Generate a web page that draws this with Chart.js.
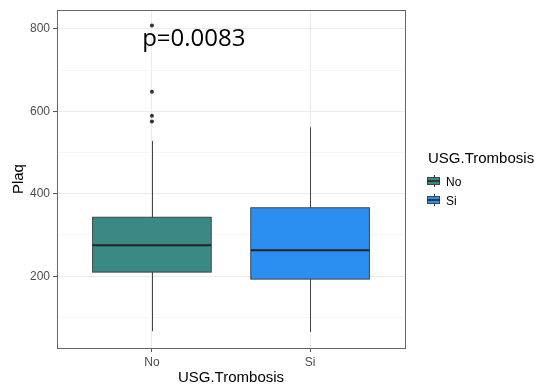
<!DOCTYPE html>
<html>
<head>
<meta charset="utf-8">
<script src="https://cdn.jsdelivr.net/npm/chart.js@4.4.1/dist/chart.umd.min.js"></script>
<style>
  html, body { margin: 0; padding: 0; background: #fff; }
  #wrap { width: 535px; height: 388px; position: relative; }
</style>
</head>
<body>
<div id="wrap"><canvas id="myChart" width="535" height="388"></canvas></div>
<script>
// boxplot summary per group
var groups = ['No', 'Si'];
var boxColors = ['#3a8985', '#2b8ff2'];
var lowerWhisker = [67, 65];
var q1 = [210, 193];
var median = [275, 263];
var q3 = [343, 366];
var upperWhisker = [528, 561];

// outliers (group index, value)
var outlierGroup = [0, 0, 0, 0];
var outlierValue = [808, 647, 589, 575];

var yTicks = [200, 400, 600, 800];
var yMinorTicks = [100, 300, 500, 700];
var pLabel = 'p=0.0083';

var tickFont = { family: 'Liberation Sans', size: 12 };
var titleFont = { family: 'Liberation Sans', size: 15 };

var outlierData = [];
outlierValue.forEach(function (v, i) {
    outlierData.push({ x: outlierGroup[i] + 1, y: v });
});

var boxPlugin = {
    id: 'boxes',
    beforeDatasetsDraw: function (chart) {
        var ctx = chart.ctx, xs = chart.scales.x, ys = chart.scales.y;
        ctx.save();
        groups.forEach(function (g, i) {
            var cx = xs.getPixelForValue(i + 1);
            var x0 = xs.getPixelForValue(i + 1 - 0.375);
            var x1 = xs.getPixelForValue(i + 1 + 0.375);
            // whisker
            ctx.strokeStyle = '#444';
            ctx.lineWidth = 1;
            ctx.beginPath();
            ctx.moveTo(Math.round(cx) + 0.5, ys.getPixelForValue(lowerWhisker[i]));
            ctx.lineTo(Math.round(cx) + 0.5, ys.getPixelForValue(upperWhisker[i]));
            ctx.stroke();
            // box
            var top = ys.getPixelForValue(q3[i]), bot = ys.getPixelForValue(q1[i]);
            ctx.fillStyle = boxColors[i];
            ctx.fillRect(x0, top, x1 - x0, bot - top);
            ctx.strokeStyle = '#444';
            ctx.lineWidth = 1;
            ctx.strokeRect(x0, top, x1 - x0, bot - top);
            // median
            var my = ys.getPixelForValue(median[i]);
            ctx.strokeStyle = '#222';
            ctx.lineWidth = 2;
            ctx.beginPath();
            ctx.moveTo(x0, my);
            ctx.lineTo(x1, my);
            ctx.stroke();
        });
        ctx.restore();
    },
    afterDraw: function (chart) {
        var ctx = chart.ctx, a = chart.chartArea, xs = chart.scales.x, ys = chart.scales.y;
        ctx.save();
        // panel border
        ctx.strokeStyle = '#666';
        ctx.lineWidth = 1;
        ctx.strokeRect(Math.round(a.left) + 0.5, Math.round(a.top) + 0.5,
            Math.round(a.right - a.left), Math.round(a.bottom - a.top));

        // p value annotation
        ctx.fillStyle = '#000';
        ctx.font = '24px "Open Sans"';
        ctx.textAlign = 'center';
        ctx.textBaseline = 'alphabetic';
        ctx.fillText(pLabel, xs.getPixelForValue(1.265), ys.getPixelForValue(758));

        // legend
        var lx = a.right + 23;
        ctx.textAlign = 'left';
        ctx.font = '15px "Liberation Sans"';
        ctx.fillText('USG.Trombosis', lx, 163);
        groups.forEach(function (g, i) {
            var cy = 181 + i * 19;
            var kx0 = lx - 1, kx1 = lx + 12, kc = Math.round((kx0 + kx1) / 2) + 0.5;
            ctx.strokeStyle = '#333';
            ctx.lineWidth = 1;
            ctx.beginPath();
            ctx.moveTo(kc, cy - 6);
            ctx.lineTo(kc, cy + 6);
            ctx.stroke();
            ctx.fillStyle = boxColors[i];
            ctx.fillRect(kx0, cy - 4, kx1 - kx0, 8);
            ctx.strokeStyle = '#444';
            ctx.strokeRect(kx0 + 0.5, cy - 3.5, kx1 - kx0 - 1, 7);
            ctx.strokeStyle = '#222';
            ctx.lineWidth = 1.5;
            ctx.beginPath();
            ctx.moveTo(kx0, cy);
            ctx.lineTo(kx1, cy);
            ctx.stroke();
            ctx.fillStyle = '#000';
            ctx.font = '12px "Liberation Sans"';
            ctx.fillText(g, lx + 18, cy + 4.5);
        });
        ctx.restore();
    }
};

var ctx = document.getElementById('myChart').getContext('2d');
var myChart = new Chart(ctx, {
    type: 'scatter',
    data: {
        datasets: [{
            label: 'outliers',
            data: outlierData,
            pointRadius: 2,
            pointHoverRadius: 2,
            backgroundColor: '#333',
            borderColor: '#333',
            borderWidth: 0
        }]
    },
    options: {
        responsive: false,
        animation: false,
        events: [],
        layout: { padding: { left: 0, right: 130, top: 9, bottom: 0 } },
        plugins: { legend: { display: false }, tooltip: { enabled: false } },
        scales: {
            x: {
                type: 'linear',
                min: 0.4,
                max: 2.6,
                afterBuildTicks: function (scale) {
                    scale.ticks = groups.map(function (g, i) { return { value: i + 1 }; });
                },
                afterFit: function (scale) { scale.height = 40; },
                ticks: {
                    color: '#4d4d4d',
                    font: tickFont,
                    padding: 3,
                    maxRotation: 0,
                    callback: function (v) { return groups[v - 1]; }
                },
                grid: { color: '#ebebeb', tickColor: '#555', tickLength: 4, lineWidth: 1 },
                border: { display: false },
                title: { display: true, text: 'USG.Trombosis', color: '#000', font: titleFont, padding: { top: 0, bottom: 1 } }
            },
            y: {
                min: 26,
                max: 845,
                afterBuildTicks: function (scale) {
                    var t = yTicks.concat(yMinorTicks).sort(function (a, b) { return a - b; });
                    scale.ticks = t.map(function (v) { return { value: v }; });
                },
                afterFit: function (scale) { scale.width = 57; },
                ticks: {
                    color: '#4d4d4d',
                    font: tickFont,
                    padding: 3,
                    callback: function (v) { return yTicks.indexOf(v) >= 0 ? String(v) : ''; }
                },
                grid: {
                    color: function (c) { return yTicks.indexOf(c.tick.value) >= 0 ? '#ebebeb' : '#f5f5f5'; },
                    tickColor: function (c) { return yTicks.indexOf(c.tick.value) >= 0 ? '#555' : 'rgba(0,0,0,0)'; },
                    tickLength: 4,
                    lineWidth: 1
                },
                border: { display: false },
                title: { display: true, text: 'Plaq', color: '#000', font: titleFont, padding: { top: 10, bottom: 0 } }
            }
        }
    },
    plugins: [boxPlugin]
});
</script>
</body>
</html>
